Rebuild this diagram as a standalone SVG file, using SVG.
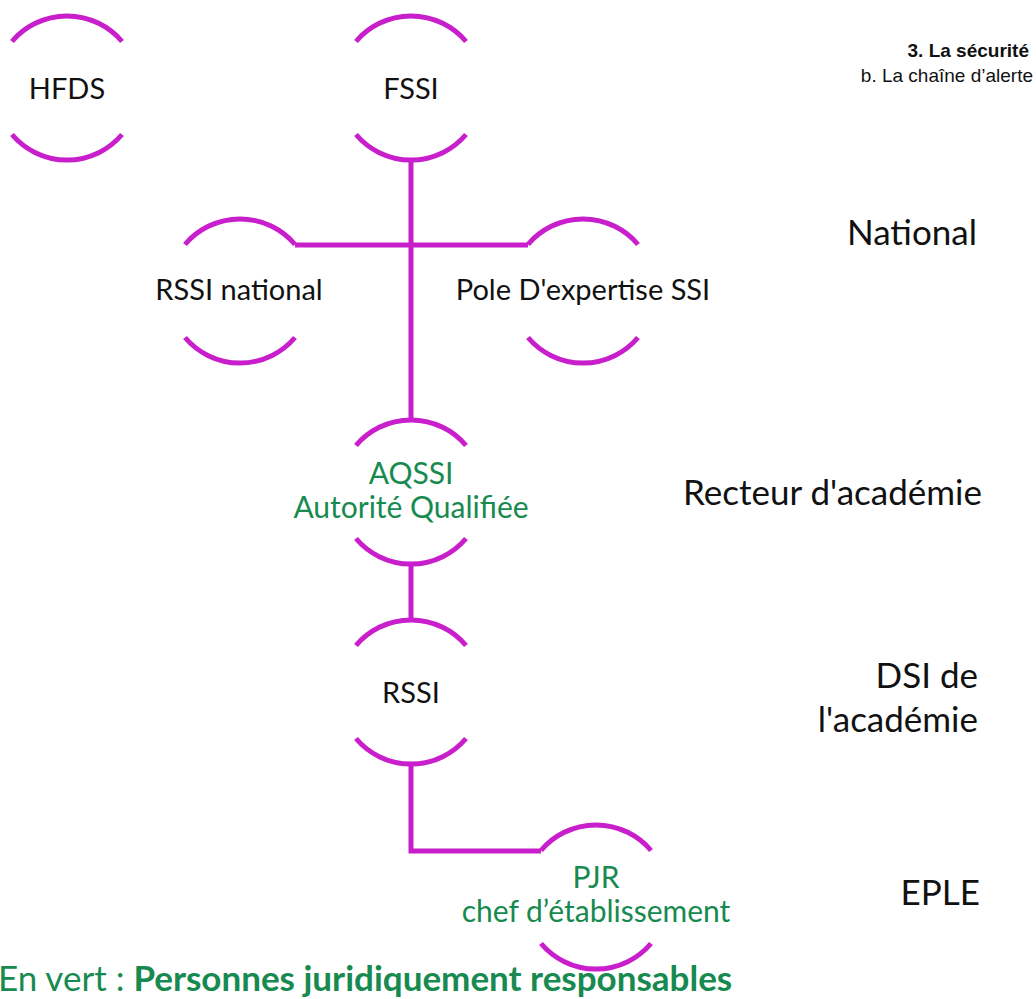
<svg xmlns="http://www.w3.org/2000/svg" width="1036" height="999" viewBox="0 0 1036 999">
<style>
.arc{fill:none;stroke:#C81ECB;stroke-width:5;stroke-linecap:butt}
.con{fill:none;stroke:#C81ECB;stroke-width:5}
.t{font-family:Lato,"Open Sans",sans-serif;font-size:29px;fill:#111;text-anchor:middle}
.g{fill:#178A50;font-size:30px}
.lab{font-family:Lato,"Open Sans",sans-serif;font-size:35px;fill:#111}
.hd{font-family:"Liberation Sans",Arial,sans-serif;font-size:19px;fill:#111;text-anchor:end}
</style>
<rect width="1036" height="999" fill="#fff"/>
<g id="connectors">
<path class="con" d="M411,160 V420"/>
<path class="con" d="M295,245 H528"/>
<path class="con" d="M411,564 V620"/>
<path class="con" d="M411,764 V851 H541"/>
</g>
<g id="n-hfds">
<path class="arc" d="M12,41.5 A72,72 0 0 1 122,41.5"/>
<path class="arc" d="M12,134.5 A72,72 0 0 0 122,134.5"/>
<text class="t" x="67" y="99">HFDS</text>
</g>
<g id="n-fssi">
<path class="arc" d="M356,41.5 A72,72 0 0 1 466,41.5"/>
<path class="arc" d="M356,134.5 A72,72 0 0 0 466,134.5"/>
<text class="t" x="411" y="99">FSSI</text>
</g>
<g id="n-rssi-national">
<path class="arc" d="M185,244.5 A72,72 0 0 1 295,244.5"/>
<path class="arc" d="M185,337.5 A72,72 0 0 0 295,337.5"/>
<text class="t" x="239" y="300">RSSI national</text>
</g>
<g id="n-pole">
<path class="arc" d="M528,244.5 A72,72 0 0 1 638,244.5"/>
<path class="arc" d="M528,337.5 A72,72 0 0 0 638,337.5"/>
<text class="t" x="583" y="300">Pole D'expertise SSI</text>
</g>
<g id="n-aqssi">
<path class="arc" d="M356,445.5 A72,72 0 0 1 466,445.5"/>
<path class="arc" d="M356,538.5 A72,72 0 0 0 466,538.5"/>
<text class="t g" x="411" y="484">AQSSI</text>
<text class="t g" x="411" y="518">Autorité Qualifiée</text>
</g>
<g id="n-rssi">
<path class="arc" d="M356,645.5 A72,72 0 0 1 466,645.5"/>
<path class="arc" d="M356,738.5 A72,72 0 0 0 466,738.5"/>
<text class="t" x="411" y="703">RSSI</text>
</g>
<g id="n-pjr">
<path class="arc" d="M541,850.5 A72,72 0 0 1 651,850.5"/>
<path class="arc" d="M541,943.5 A72,72 0 0 0 651,943.5"/>
<text class="t g" x="596" y="888">PJR</text>
<text class="t g" x="596" y="922">chef d’établissement</text>
</g>
<g id="labels">
<text class="lab" x="847" y="245">National</text>
<text class="lab" x="683" y="505">Recteur d'académie</text>
<text class="lab" x="978" y="688" text-anchor="end">DSI de</text>
<text class="lab" x="978" y="732" text-anchor="end">l'académie</text>
<text class="lab" x="980" y="905" text-anchor="end" font-size="32">EPLE</text>
</g>
<g id="header">
<text class="hd" x="1029" y="57" font-weight="bold">3. La sécurité</text>
<text class="hd" x="1033" y="82" font-size="21">b. La chaîne d’alerte</text>
</g>
<text x="-2" y="991" style="font-family:Lato,'Open Sans',sans-serif;font-size:35px;fill:#178A50">En vert : <tspan font-weight="bold">Personnes  juridiquement responsables</tspan></text>
</svg>
